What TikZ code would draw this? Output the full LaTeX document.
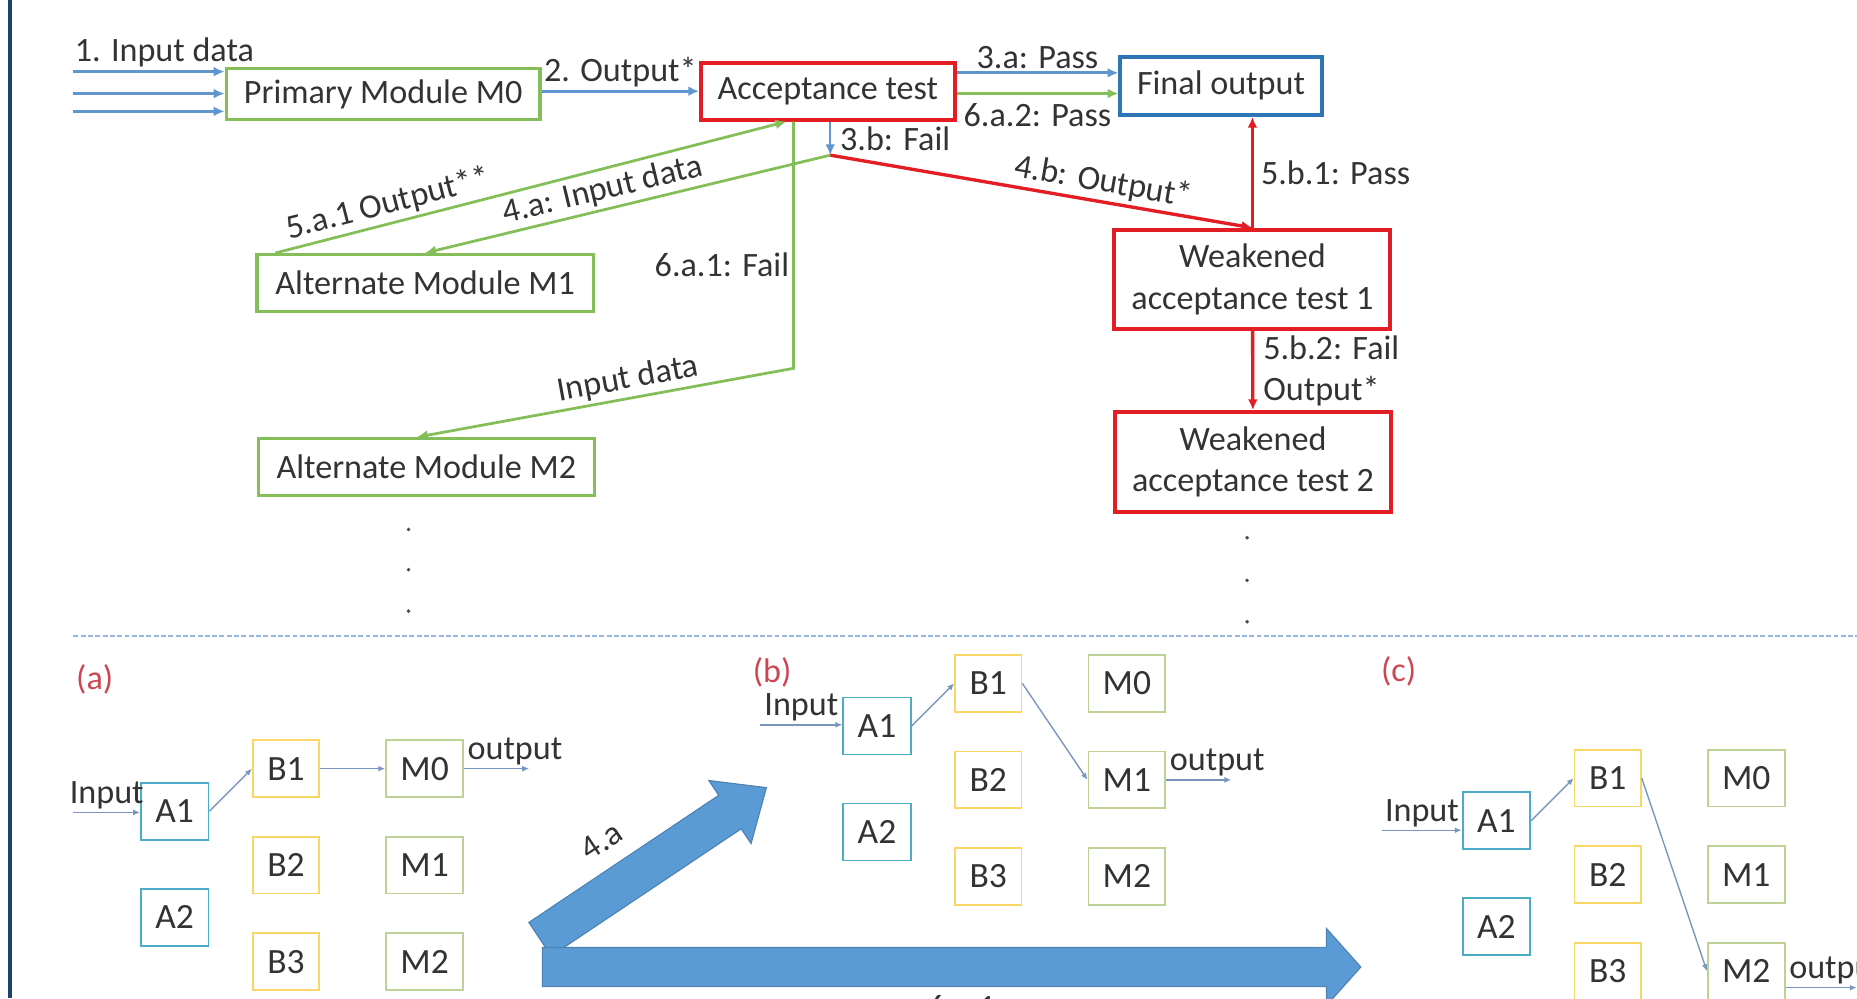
\documentclass[tikz,border=0pt]{standalone}
\usepackage{fontspec}
\setmainfont{Carlito}
\usetikzlibrary{positioning,arrows.meta,calc}

\definecolor{boxgreen}{RGB}{132,190,88}
\definecolor{boxred}{RGB}{226,30,36}
\definecolor{boxblue}{RGB}{46,117,182}
\definecolor{flowblue}{RGB}{95,150,208}
\definecolor{lineblue}{RGB}{120,150,190}
\definecolor{tealbox}{RGB}{75,172,198}
\definecolor{yellowbox}{RGB}{250,215,100}
\definecolor{olivebox}{RGB}{190,210,150}
\definecolor{bigblue}{RGB}{91,155,213}
\definecolor{navyline}{RGB}{24,68,110}
\definecolor{tagred}{RGB}{205,70,80}
\definecolor{divider}{RGB}{150,182,222}

\begin{document}
\begin{tikzpicture}[x=0.6pt,y=-0.6pt,
    every node/.style={font=\fontsize{17.3}{21}\selectfont,text=black!80,inner sep=1.5pt},
    module/.style={rectangle,draw=boxgreen,line width=1.7pt,minimum width=170.4pt,minimum height=28.8pt},
    test/.style={rectangle,draw=boxred,line width=2pt,minimum width=139.8pt,minimum height=50.4pt,align=center},
    flow/.style={-{Latex[length=5.5pt,width=5pt]},draw=flowblue,line width=1.4pt},
    gflow/.style={-{Latex[length=5.5pt,width=5pt]},draw=boxgreen,line width=1.4pt},
    rflow/.style={-{Latex[length=5.5pt,width=5pt]},draw=boxred,line width=1.7pt},
    thinarrow/.style={-{Latex[length=3.5pt,width=3pt]},draw=lineblue,line width=0.7pt},
    abox/.style={rectangle,draw=tealbox,line width=0.9pt,minimum width=34.2pt,minimum height=28.8pt,font=\fontsize{18}{21}\selectfont},
    bbox/.style={rectangle,draw=yellowbox,line width=0.9pt,minimum width=33.6pt,minimum height=28.8pt,font=\fontsize{18}{21}\selectfont},
    mbox/.style={rectangle,draw=olivebox,line width=0.9pt,minimum width=39pt,minimum height=28.8pt,font=\fontsize{18}{21}\selectfont},
    paneltag/.style={text=tagred},
    bigarrow/.style={fill=bigblue,draw=bigblue!85!black,line width=0.6pt}
  ]
    \useasboundingbox (0,0) rectangle (1568,843);
    \clip (0,0) rectangle (1568,843);
    \draw[navyline,line width=1.8pt] (8.5,0) -- (8.5,843);

    % recovery block scheme
    \node[module,minimum width=159pt,minimum height=25.8pt] (prim) at (323.5,79.5) {Primary Module M0};
    \node[test,minimum width=128.4pt,minimum height=28.8pt] (acc) at (699,77) {Acceptance test};
    \node[rectangle,draw=boxblue,line width=2pt,minimum width=102pt,minimum height=29.4pt] (final) at (1031,72.5) {Final output};
    \node[test] (weak1) at (1057.5,236) {Weakened\\acceptance test 1};
    \node[test] (weak2) at (1058,390) {Weakened\\acceptance test 2};
    \node[module] (alt1) at (359,239) {Alternate Module M1};
    \node[module] (alt2) at (360,394.5) {Alternate Module M2};

    \coordinate (in1) at (62,60.5);
    \coordinate (in2) at (62,79);
    \coordinate (in3) at (62,94);
    \coordinate (fail) at (701,131);
    \coordinate (bend) at (670,311);

    \draw[flow] (in1) -- node[above right,pos=0,inner xsep=0pt]{1. Input data} (in1 -| prim.west);
    \draw[flow] (in2) -- (in2 -| prim.west);
    \draw[flow] (in3) -- (in3 -| prim.west);
    \draw[flow] (prim.east |- acc.west) -- node[above]{2. Output*} (acc.west);
    \draw[flow] ([yshift=9.3pt]acc.east) -- node[above]{3.a: Pass} ([yshift=9.3pt]acc.east -| final.west);
    \draw[gflow] ([yshift=-1.2pt]acc.east) -- node[below=3pt]{6.a.2: Pass} ([yshift=-1.2pt]acc.east -| final.west);
    \draw[flow,line width=1pt] (fail |- acc.south) -- node[right=3pt]{3.b: Fail} (fail);
    \draw[rflow] (fail) -- node[sloped,above,pos=0.64]{4.b: Output*} (weak1.north);
    \draw[rflow] (weak1.north) -- node[right=2pt]{5.b.1: Pass} (weak1.north |- final.south);
    \draw[rflow] (weak1) -- node[right=3pt,align=left]{5.b.2: Fail\\Output*} (weak2);
    \draw[gflow] ([xshift=10.2pt]alt1.north west) -- node[sloped,above,pos=0.23]{5.a.1 Output**} ([xshift=-21pt]acc.south);
    \draw[gflow] (fail) -- node[sloped,above,pos=0.55]{4.a: Input data} (alt1.north);
    \draw[gflow] (bend |- acc.south) -- node[left,pos=0.58]{6.a.1: Fail} (bend)
        -- node[sloped,above,pos=0.43]{Input data} ([xshift=-4.8pt]alt2.north);

    \foreach \y in {447,481,516} \fill[black!70] (345,\y) circle (1pt);
    \foreach \y in {454,490,525} \fill[black!70] (1053,\y) circle (1pt);

    \draw[divider,line width=0.9pt,dash pattern=on 2.5pt off 1.2pt] (62,537) -- (1568,537);

    % big arrows between the cases
    \begin{scope}[shift={(456,793)},rotate=33.8]
      \filldraw[bigarrow] (0,-17) -- (193,-17) -- (193,-32) -- (230,0) -- (193,32) -- (193,17) -- (0,17) -- cycle;
      \node[rotate=33.8] (stepA) at (89,-40) {4.a};
    \end{scope}
    \filldraw[bigarrow] (458,800) -- (1120,800) -- (1120,784) -- (1149,816.5) -- (1120,849) -- (1120,833) -- (458,833) -- cycle;
    \node[anchor=north] (stepB) at (812,838) {6.a.1};

    % case (a)
    \node[paneltag] (taga) at (80,574) {(a)};
    \node[bbox] (B1a) at (241.5,649) {B1};
    \node[bbox,below=19.2pt of B1a] (B2a) {B2};
    \node[bbox,below=19.2pt of B2a] (B3a) {B3};
    \node[mbox,right=33pt of B1a] (M0a) {M0};
    \node[mbox,right=33pt of B2a] (M1a) {M1};
    \node[mbox,right=33pt of B3a] (M2a) {M2};
    \node[abox,left=21.6pt of B1a,yshift=-21.6pt] (A1a) {A1};
    \node[abox,below=24pt of A1a] (A2a) {A2};
    \coordinate (ina) at (62,686);
    \coordinate[right=33pt of M0a] (outa);
    \draw[thinarrow] (ina) -- node[above]{Input} (ina -| A1a.west);
    \draw[thinarrow] (A1a.east) -- (B1a.west);
    \draw[thinarrow] (B1a) -- (M0a);
    \draw[thinarrow] (M0a) -- node[above right,pos=0]{output} (outa);

    % case (b)
    \node[paneltag] (tagb) at (652,568) {(b)};
    \node[bbox] (B1b) at (834.5,577) {B1};
    \node[bbox,below=19.2pt of B1b] (B2b) {B2};
    \node[bbox,below=19.2pt of B2b] (B3b) {B3};
    \node[mbox,right=33pt of B1b] (M0b) {M0};
    \node[mbox,right=33pt of B2b] (M1b) {M1};
    \node[mbox,right=33pt of B3b] (M2b) {M2};
    \node[abox,left=21.6pt of B1b,yshift=-21.6pt] (A1b) {A1};
    \node[abox,below=24pt of A1b] (A2b) {A2};
    \coordinate (inb) at (642,612);
    \coordinate[right=33pt of M1b] (outb);
    \draw[thinarrow] (inb) -- node[above]{Input} (inb -| A1b.west);
    \draw[thinarrow] (A1b.east) -- (B1b.west);
    \draw[thinarrow] (B1b.east) -- (M1b.west);
    \draw[thinarrow] (M1b) -- node[above right,pos=0]{output} (outb);

    % case (c)
    \node[paneltag] (tagc) at (1181,567) {(c)};
    \node[bbox] (B1c) at (1357.5,657) {B1};
    \node[bbox,below=19.2pt of B1c] (B2c) {B2};
    \node[bbox,below=19.2pt of B2c] (B3c) {B3};
    \node[mbox,right=33pt of B1c] (M0c) {M0};
    \node[mbox,right=33pt of B2c] (M1c) {M1};
    \node[mbox,right=33pt of B3c] (M2c) {M2};
    \node[abox,left=21.6pt of B1c,yshift=-21.6pt] (A1c) {A1};
    \node[abox,below=24pt of A1c] (A2c) {A2};
    \coordinate (inc) at (1167,701);
    \coordinate[right=36pt of M2c,yshift=-8.4pt] (outc);
    \draw[thinarrow] (inc) -- node[above]{Input} (inc -| A1c.west);
    \draw[thinarrow] (A1c.east) -- (B1c.west);
    \draw[thinarrow] (B1c.east) -- (M2c.west);
    \draw[thinarrow] ([yshift=-8.4pt]M2c.east) -- node[above right,pos=0]{output} (outc);
\end{tikzpicture}
\end{document}
